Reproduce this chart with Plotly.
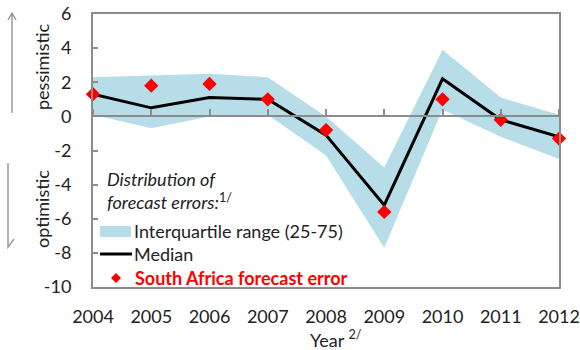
import plotly.graph_objects as go

# Forecast-error data by year
years = [2004, 2005, 2006, 2007, 2008, 2009, 2010, 2011, 2012]
year_labels = ["2004", "2005", "2006", "2007", "2008", "2009", "2010", "2011", "2012"]
sa_error = [1.3, 1.8, 1.9, 1.0, -0.8, -5.6, 1.0, -0.2, -1.3]
median_err = [1.3, 0.5, 1.1, 1.0, -1.1, -5.2, 2.2, -0.2, -1.2]
iqr_upper = [2.3, 2.4, 2.5, 2.3, 0.0, -3.0, 3.9, 1.1, 0.1]
iqr_lower = [0.1, -0.7, 0.0, 0.1, -2.3, -7.7, 0.4, -1.2, -2.5]
y_ticks = [-10, -8, -6, -4, -2, 0, 2, 4, 6]
y_tick_labels = ["-10", "-8", "-6", "-4", "-2", "0", "2", "4", "6"]

W, H = 580, 350
L, R, T, B = 93, 559, 14, 287  # plot area in pixels
FONT = "Lato"
FS = 18
TXT = "#222222"
AXC = "#8c8c8c"
BAND = "#b7dde8"


def px(x):
    return (x - L) / (R - L)


def py(y):
    return (B - y) / (B - T)


fig = go.Figure()

fig.add_trace(go.Scatter(
    x=years + years[::-1], y=iqr_upper + iqr_lower[::-1],
    fill="toself", fillcolor=BAND, line=dict(width=0),
    mode="lines", showlegend=False, hoverinfo="skip"))
fig.add_trace(go.Scatter(
    x=years, y=median_err, mode="lines",
    line=dict(color="black", width=3), showlegend=False))
fig.add_trace(go.Scatter(
    x=years, y=sa_error, mode="markers",
    marker=dict(symbol="diamond", size=11, color="red"),
    cliponaxis=False, showlegend=False))
# empty trace so the zero-crossing axis gets drawn
fig.add_trace(go.Scatter(x=[], y=[], xaxis="x2", showlegend=False))

shapes = []
annotations = []

# Legend block
annotations.append(dict(
    x=px(105), y=py(191), xref="paper", yref="paper", xanchor="left", yanchor="middle",
    text="<i>Distribution of<br>forecast errors:</i><sup>1/</sup>", showarrow=False, align="left",
    font=dict(family=FONT, size=FS, color=TXT)))
shapes.append(dict(type="rect", xref="paper", yref="paper",
                   x0=px(100), x1=px(131), y0=py(237), y1=py(226),
                   fillcolor=BAND, line=dict(width=0)))
annotations.append(dict(
    x=px(132), y=py(231), xref="paper", yref="paper", xanchor="left", yanchor="middle",
    text="Interquartile range (25-75)", showarrow=False,
    font=dict(family=FONT, size=FS, color=TXT)))
shapes.append(dict(type="line", xref="paper", yref="paper",
                   x0=px(100), x1=px(132), y0=py(254), y1=py(254),
                   line=dict(color="black", width=3)))
annotations.append(dict(
    x=px(132), y=py(254), xref="paper", yref="paper", xanchor="left", yanchor="middle",
    text="Median", showarrow=False,
    font=dict(family=FONT, size=FS, color=TXT)))
cx, cy, r = 116, 278, 5
shapes.append(dict(type="path", xref="paper", yref="paper",
                   path=f"M {px(cx - r)},{py(cy)} L {px(cx)},{py(cy - r)} L {px(cx + r)},{py(cy)} L {px(cx)},{py(cy + r)} Z",
                   fillcolor="red", line=dict(width=0)))
annotations.append(dict(
    x=px(133), y=py(278), xref="paper", yref="paper", xanchor="left", yanchor="middle",
    text="<b>South Africa forecast error</b>", showarrow=False,
    font=dict(family=FONT, size=FS, color="red")))

# Side arrows with captions
shapes.append(dict(type="path", xref="paper", yref="paper",
                   path=f"M {px(12)},{py(113)} L {px(12)},{py(13)} M {px(8)},{py(20)} L {px(12)},{py(13)} L {px(16)},{py(20)}",
                   line=dict(color="#9a9a9a", width=1.5)))
shapes.append(dict(type="path", xref="paper", yref="paper",
                   path=f"M {px(8)},{py(163)} L {px(8)},{py(247)} L {px(14)},{py(239)}",
                   line=dict(color="#9a9a9a", width=1.5)))
annotations.append(dict(
    x=px(42), y=py(67), xref="paper", yref="paper", xanchor="center", yanchor="middle",
    text="pessimistic", textangle=-90, showarrow=False,
    font=dict(family=FONT, size=FS, color=TXT)))
annotations.append(dict(
    x=px(42), y=py(209), xref="paper", yref="paper", xanchor="center", yanchor="middle",
    text="optimistic", textangle=-90, showarrow=False,
    font=dict(family=FONT, size=FS, color=TXT)))

# X axis title
annotations.append(dict(
    x=px(336), y=py(339), xref="paper", yref="paper", xanchor="center", yanchor="middle",
    text="Year <sup>2/</sup>", showarrow=False,
    font=dict(family=FONT, size=FS, color=TXT)))

fig.update_layout(
    width=W, height=H,
    margin=dict(l=L, r=W - R, t=T, b=H - B, autoexpand=False),
    paper_bgcolor="white", plot_bgcolor="white",
    showlegend=False,
    shapes=shapes, annotations=annotations,
    xaxis=dict(range=[2004, 2012], tickvals=years, ticktext=year_labels,
               showgrid=False, zeroline=False, showline=True, mirror=True,
               linecolor=AXC, linewidth=2, ticks="", ticklabelstandoff=12,
               automargin=False,
               tickfont=dict(family=FONT, size=FS, color=TXT)),
    xaxis2=dict(range=[2004, 2012], overlaying="x", anchor="free", position=10 / 16,
                side="top", tickvals=years, ticks="outside", ticklen=6, tickwidth=2,
                tickcolor=AXC, showticklabels=False, showgrid=False, zeroline=False,
                showline=True, linecolor=AXC, linewidth=2, automargin=False),
    yaxis=dict(range=[-10, 6], tickvals=y_ticks, ticktext=y_tick_labels,
               showgrid=False, zeroline=False, showline=True, mirror=True,
               linecolor=AXC, linewidth=2, ticks="inside", ticklen=5, tickwidth=2,
               tickcolor=AXC, ticklabelstandoff=16, automargin=False,
               tickfont=dict(family=FONT, size=FS, color=TXT)),
)

fig.write_html("out.html")
